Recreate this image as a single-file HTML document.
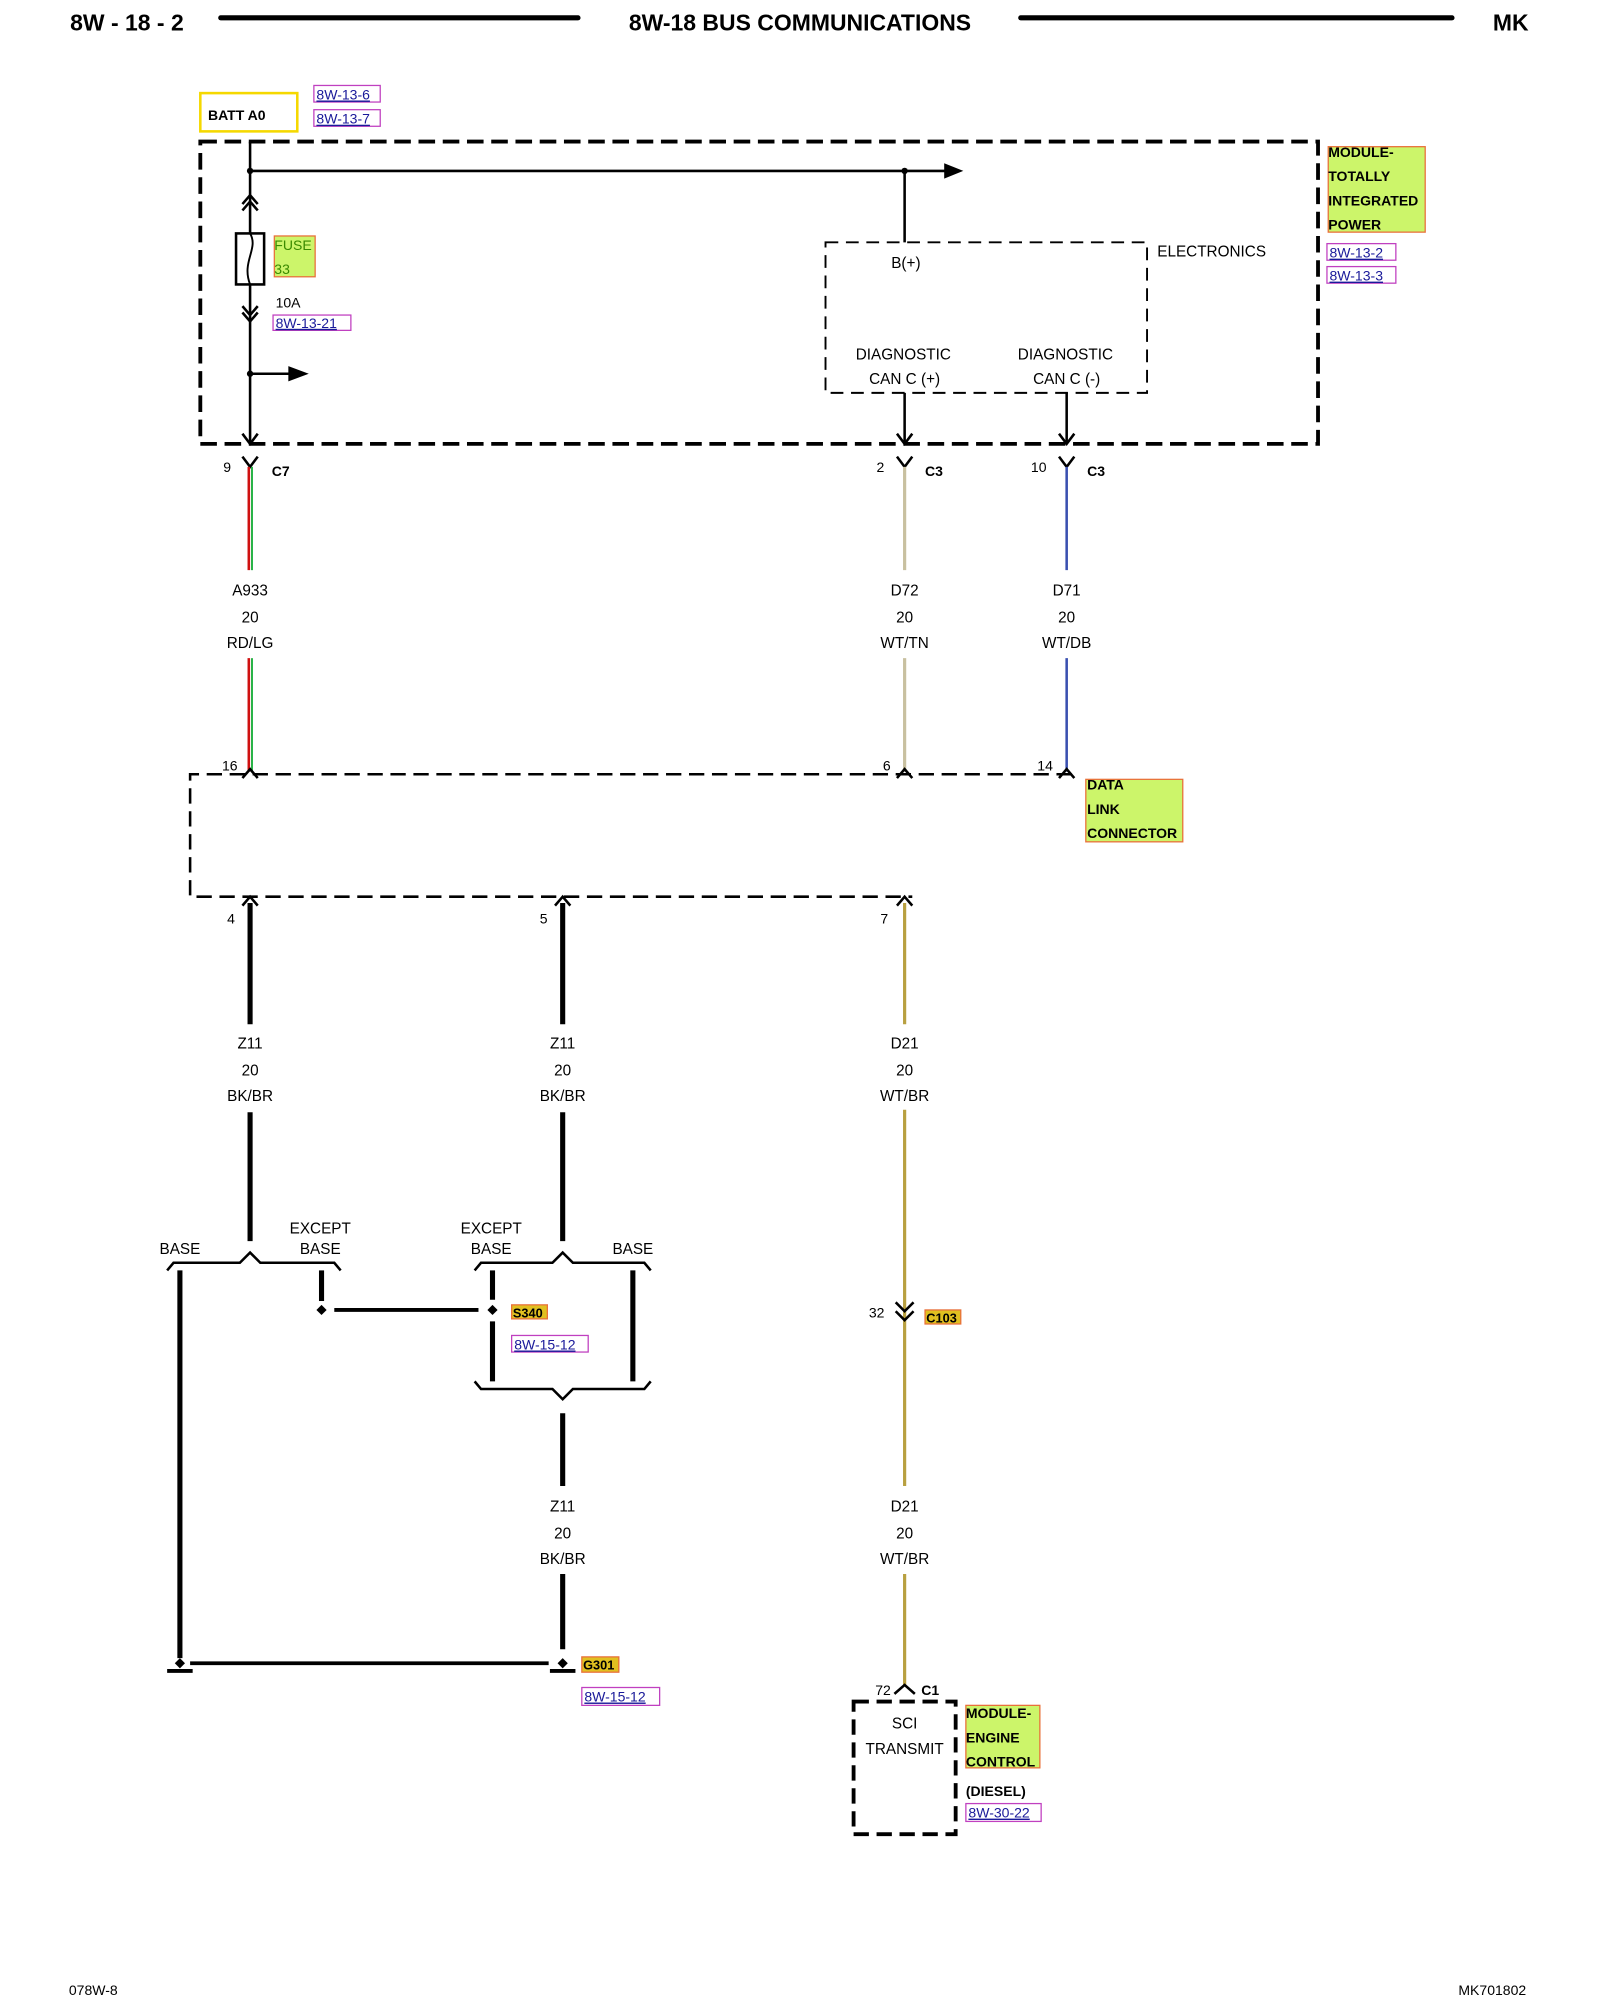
<!DOCTYPE html>
<html><head><meta charset="utf-8"><style>
html,body{margin:0;padding:0;background:#fff;}
svg{display:block;}
text{font-family:"Liberation Sans",sans-serif;font-size:12px;fill:#000;}
.b{font-weight:bold;}
.c{text-anchor:middle;}
.ref{fill:#1a1a9a;font-size:11px;text-decoration:underline;}
</style></head><body>
<svg width="1600" height="2000" viewBox="0 0 1254 1568" preserveAspectRatio="none" xmlns="http://www.w3.org/2000/svg">
<!-- header -->
<text x="55" y="24" class="b" style="font-size:18px">8W - 18 - 2</text>
<line x1="173" y1="14" x2="453" y2="14" stroke="#000" stroke-width="4" stroke-linecap="round"/>
<text x="627" y="24" class="b c" style="font-size:18px">8W-18 BUS COMMUNICATIONS</text>
<line x1="800" y1="14" x2="1138" y2="14" stroke="#000" stroke-width="4" stroke-linecap="round"/>
<text x="1170" y="24" class="b" style="font-size:18px">MK</text>

<!-- BATT -->
<rect x="157" y="73" width="76" height="30" fill="none" stroke="#f5d800" stroke-width="2"/>
<text x="163" y="94" class="b" style="font-size:11px">BATT A0</text>
<rect x="246" y="67" width="52" height="13" fill="none" stroke="#c040c0" stroke-width="1"/>
<text x="248" y="78" class="ref">8W-13-6</text>
<rect x="246" y="86" width="52" height="13" fill="none" stroke="#c040c0" stroke-width="1"/>
<text x="248" y="97" class="ref">8W-13-7</text>

<!-- outer dashed box -->
<path d="M157 111 H1033 V348 H157 Z" fill="none" stroke="#000" stroke-width="3" stroke-dasharray="13 6"/>
<g stroke="#000" stroke-width="2" fill="none">
<line x1="196" y1="111" x2="196" y2="348"/>
<line x1="196" y1="134" x2="742" y2="134"/>
<line x1="709" y1="134" x2="709" y2="190"/>
<polyline points="190,160 196,153 202,160"/>
<polyline points="190,165 196,158 202,165"/>
<polyline points="190,240 196,247 202,240"/>
<polyline points="190,245 196,252 202,245"/>
<line x1="196" y1="293" x2="228" y2="293"/>
<polyline points="190,340 196,348 202,340"/>
<line x1="709" y1="308" x2="709" y2="348"/>
<polyline points="703,340 709,348 715,340"/>
<line x1="836" y1="308" x2="836" y2="348"/>
<polyline points="830,340 836,348 842,340"/>
</g>
<rect x="185" y="183" width="22" height="40" fill="#fff" stroke="#000" stroke-width="2"/>
<path d="M196 183 C203 195,189 205,196 223" fill="none" stroke="#000" stroke-width="1.5"/>
<circle cx="196" cy="134" r="2.5"/><circle cx="709" cy="134" r="2.5"/><circle cx="196" cy="293" r="2.5"/>
<polygon points="740,128 755,134 740,140"/>
<polygon points="226,287 242,293 226,299"/>
<rect x="215" y="185" width="32" height="32" fill="#ccf56a" stroke="#e8703a" stroke-width="1"/>
<text x="215" y="196" style="fill:#3a8a00;font-size:11px">FUSE</text>
<text x="215" y="215" style="fill:#3a8a00;font-size:11px">33</text>
<text x="216" y="241" style="font-size:11px">10A</text>
<rect x="214" y="247" width="61" height="12" fill="none" stroke="#c040c0"/>
<text x="216" y="257" class="ref">8W-13-21</text>

<!-- electronics -->
<path d="M647 190 H899 V308 H647 Z" fill="none" stroke="#000" stroke-width="1.5" stroke-dasharray="10 6"/>
<text x="710" y="210" class="c">B(+)</text>
<text x="907" y="201">ELECTRONICS</text>
<text x="708" y="282" class="c">DIAGNOSTIC</text>
<text x="709" y="301" class="c">CAN C (+)</text>
<text x="835" y="282" class="c">DIAGNOSTIC</text>
<text x="836" y="301" class="c">CAN C (-)</text>
<rect x="1041" y="115" width="76" height="67" fill="#ccf56a" stroke="#e8703a"/>
<text x="1041" y="123" class="b" style="font-size:11px">MODULE-</text>
<text x="1041" y="142" class="b" style="font-size:11px">TOTALLY</text>
<text x="1041" y="161" class="b" style="font-size:11px">INTEGRATED</text>
<text x="1041" y="180" class="b" style="font-size:11px">POWER</text>
<rect x="1040" y="191" width="54" height="13" fill="none" stroke="#c040c0"/>
<text x="1042" y="202" class="ref">8W-13-2</text>
<rect x="1040" y="209" width="54" height="13" fill="none" stroke="#c040c0"/>
<text x="1042" y="220" class="ref">8W-13-3</text>

<!-- connectors top -->
<g stroke="#000" stroke-width="2" fill="none">
<polyline points="190,358 196,366 202,358"/>
<polyline points="703,358 709,366 715,358"/>
<polyline points="830,358 836,366 842,358"/>
</g>
<text x="175" y="370" style="font-size:11px">9</text><text x="213" y="373" class="b" style="font-size:11px">C7</text>
<text x="687" y="370" style="font-size:11px">2</text><text x="725" y="373" class="b" style="font-size:11px">C3</text>
<text x="808" y="370" style="font-size:11px">10</text><text x="852" y="373" class="b" style="font-size:11px">C3</text>
<!-- wires -->
<line x1="195" y1="366" x2="195" y2="447" stroke="#d01010" stroke-width="2"/><line x1="197.5" y1="366" x2="197.5" y2="447" stroke="#20b040" stroke-width="1.5"/>
<line x1="195" y1="516" x2="195" y2="605" stroke="#d01010" stroke-width="2"/><line x1="197.5" y1="516" x2="197.5" y2="605" stroke="#20b040" stroke-width="1.5"/>
<line x1="709" y1="366" x2="709" y2="447" stroke="#c8c0a0" stroke-width="2.5"/>
<line x1="709" y1="516" x2="709" y2="605" stroke="#c8c0a0" stroke-width="2.5"/>
<line x1="836" y1="366" x2="836" y2="447" stroke="#3a50b0" stroke-width="2"/>
<line x1="836" y1="516" x2="836" y2="605" stroke="#3a50b0" stroke-width="2"/>
<text x="196" y="467" class="c">A933</text><text x="196" y="488" class="c">20</text><text x="196" y="508" class="c">RD/LG</text>
<text x="709" y="467" class="c">D72</text><text x="709" y="488" class="c">20</text><text x="709" y="508" class="c">WT/TN</text>
<text x="836" y="467" class="c">D71</text><text x="836" y="488" class="c">20</text><text x="836" y="508" class="c">WT/DB</text>

<!-- DLC -->
<path d="M840 607 H149 V703 H715" fill="none" stroke="#000" stroke-width="2" stroke-dasharray="12 6"/>
<g stroke="#000" stroke-width="2" fill="none">
<polyline points="190,610 196,603 202,610"/><polyline points="703,610 709,603 715,610"/><polyline points="830,610 836,603 842,610"/>
<polyline points="190,710 196,703 202,710"/><polyline points="435,710 441,703 447,710"/><polyline points="703,710 709,703 715,710"/>
</g>
<text x="174" y="604" style="font-size:11px">16</text><text x="692" y="604" style="font-size:11px">6</text><text x="813" y="604" style="font-size:11px">14</text>
<rect x="851" y="611" width="76" height="49" fill="#ccf56a" stroke="#e8703a"/>
<text x="852" y="619" class="b" style="font-size:11px">DATA</text>
<text x="852" y="638" class="b" style="font-size:11px">LINK</text>
<text x="852" y="657" class="b" style="font-size:11px">CONNECTOR</text>
<text x="178" y="724" style="font-size:11px">4</text><text x="423" y="724" style="font-size:11px">5</text><text x="690" y="724" style="font-size:11px">7</text>

<!-- lower wires -->
<g stroke="#000" stroke-width="4">
<line x1="196" y1="708" x2="196" y2="803"/><line x1="441" y1="708" x2="441" y2="803"/>
<line x1="196" y1="872" x2="196" y2="973"/><line x1="441" y1="872" x2="441" y2="973"/>
<line x1="141" y1="996" x2="141" y2="1300"/>
<line x1="252" y1="996" x2="252" y2="1020"/>
<line x1="386" y1="996" x2="386" y2="1019"/><line x1="386" y1="1036" x2="386" y2="1083"/>
<line x1="496" y1="996" x2="496" y2="1083"/>
<line x1="441" y1="1108" x2="441" y2="1165"/><line x1="441" y1="1234" x2="441" y2="1293"/>
</g>
<line x1="262" y1="1027" x2="375" y2="1027" stroke="#000" stroke-width="3"/>
<line x1="149" y1="1304" x2="430" y2="1304" stroke="#000" stroke-width="3"/>
<line x1="709" y1="708" x2="709" y2="803" stroke="#b8a040" stroke-width="2.5"/>
<line x1="709" y1="870" x2="709" y2="1028" stroke="#b8a040" stroke-width="2.5"/>
<line x1="709" y1="1028" x2="709" y2="1165" stroke="#b8a040" stroke-width="2.5"/>
<line x1="709" y1="1234" x2="709" y2="1322" stroke="#b8a040" stroke-width="2.5"/>
<text x="196" y="822" class="c">Z11</text><text x="196" y="843" class="c">20</text><text x="196" y="863" class="c">BK/BR</text>
<text x="441" y="822" class="c">Z11</text><text x="441" y="843" class="c">20</text><text x="441" y="863" class="c">BK/BR</text>
<text x="709" y="822" class="c">D21</text><text x="709" y="843" class="c">20</text><text x="709" y="863" class="c">WT/BR</text>
<!-- braces -->
<g stroke="#000" stroke-width="2" fill="none">
<path d="M131 996 L136 990 H188 L196 982 L204 990 H262 L267 996"/>
<path d="M372 996 L377 990 H433 L441 982 L449 990 H505 L510 996"/>
<path d="M372 1083 L377 1089 H433 L441 1097 L449 1089 H505 L510 1083"/>
</g>
<text x="141" y="983" class="c">BASE</text><text x="251" y="967" class="c">EXCEPT</text><text x="251" y="983" class="c">BASE</text>
<text x="385" y="967" class="c">EXCEPT</text><text x="385" y="983" class="c">BASE</text><text x="496" y="983" class="c">BASE</text>
<polygon points="252,1023 256,1027 252,1031 248,1027"/>
<polygon points="386,1023 390,1027 386,1031 382,1027"/>
<polygon points="141,1300 145,1304 141,1308 137,1304"/>
<polygon points="441,1300 445,1304 441,1308 437,1304"/>
<line x1="131" y1="1310" x2="151" y2="1310" stroke="#000" stroke-width="3"/>
<line x1="431" y1="1310" x2="451" y2="1310" stroke="#000" stroke-width="3"/>
<rect x="401" y="1023" width="28" height="11" fill="#e0c020" stroke="#e8703a"/>
<text x="402" y="1033" class="b" style="font-size:10px">S340</text>
<rect x="401" y="1047" width="60" height="13" fill="none" stroke="#c040c0"/>
<text x="403" y="1058" class="ref">8W-15-12</text>
<text x="441" y="1185" class="c">Z11</text><text x="441" y="1206" class="c">20</text><text x="441" y="1226" class="c">BK/BR</text>
<rect x="456" y="1299" width="29" height="12" fill="#e0c020" stroke="#e8703a"/>
<text x="457" y="1309" class="b" style="font-size:10px">G301</text>
<rect x="456" y="1323" width="61" height="14" fill="none" stroke="#c040c0"/>
<text x="458" y="1334" class="ref">8W-15-12</text>

<!-- C103 -->
<g stroke="#000" stroke-width="2" fill="none">
<polyline points="702,1021 709,1028 716,1021"/><polyline points="702,1028 709,1035 716,1028"/>
<polyline points="701,1328 709,1321 717,1328"/>
</g>
<text x="681" y="1033" style="font-size:11px">32</text>
<rect x="725" y="1027" width="28" height="11" fill="#e0c020" stroke="#e8703a"/>
<text x="726" y="1037" class="b" style="font-size:10px">C103</text>
<text x="709" y="1185" class="c">D21</text><text x="709" y="1206" class="c">20</text><text x="709" y="1226" class="c">WT/BR</text>
<text x="686" y="1329" style="font-size:11px">72</text><text x="722" y="1329" class="b" style="font-size:11px">C1</text>
<path d="M669 1334 H749 V1438 H669 Z" fill="none" stroke="#000" stroke-width="3" stroke-dasharray="12 6"/>
<text x="709" y="1355" class="c">SCI</text><text x="709" y="1375" class="c">TRANSMIT</text>
<rect x="757" y="1337" width="58" height="49" fill="#ccf56a" stroke="#e8703a"/>
<text x="757" y="1347" class="b" style="font-size:11px">MODULE-</text>
<text x="757" y="1366" class="b" style="font-size:11px">ENGINE</text>
<text x="757" y="1385" class="b" style="font-size:11px">CONTROL</text>
<text x="757" y="1408" class="b" style="font-size:11px">(DIESEL)</text>
<rect x="757" y="1414" width="59" height="14" fill="none" stroke="#c040c0"/>
<text x="759" y="1425" class="ref">8W-30-22</text>

<!-- footer -->
<text x="54" y="1564" style="font-size:11px">078W-8</text>
<text x="1143" y="1564" style="font-size:11px">MK701802</text>
</svg>
</body></html>
